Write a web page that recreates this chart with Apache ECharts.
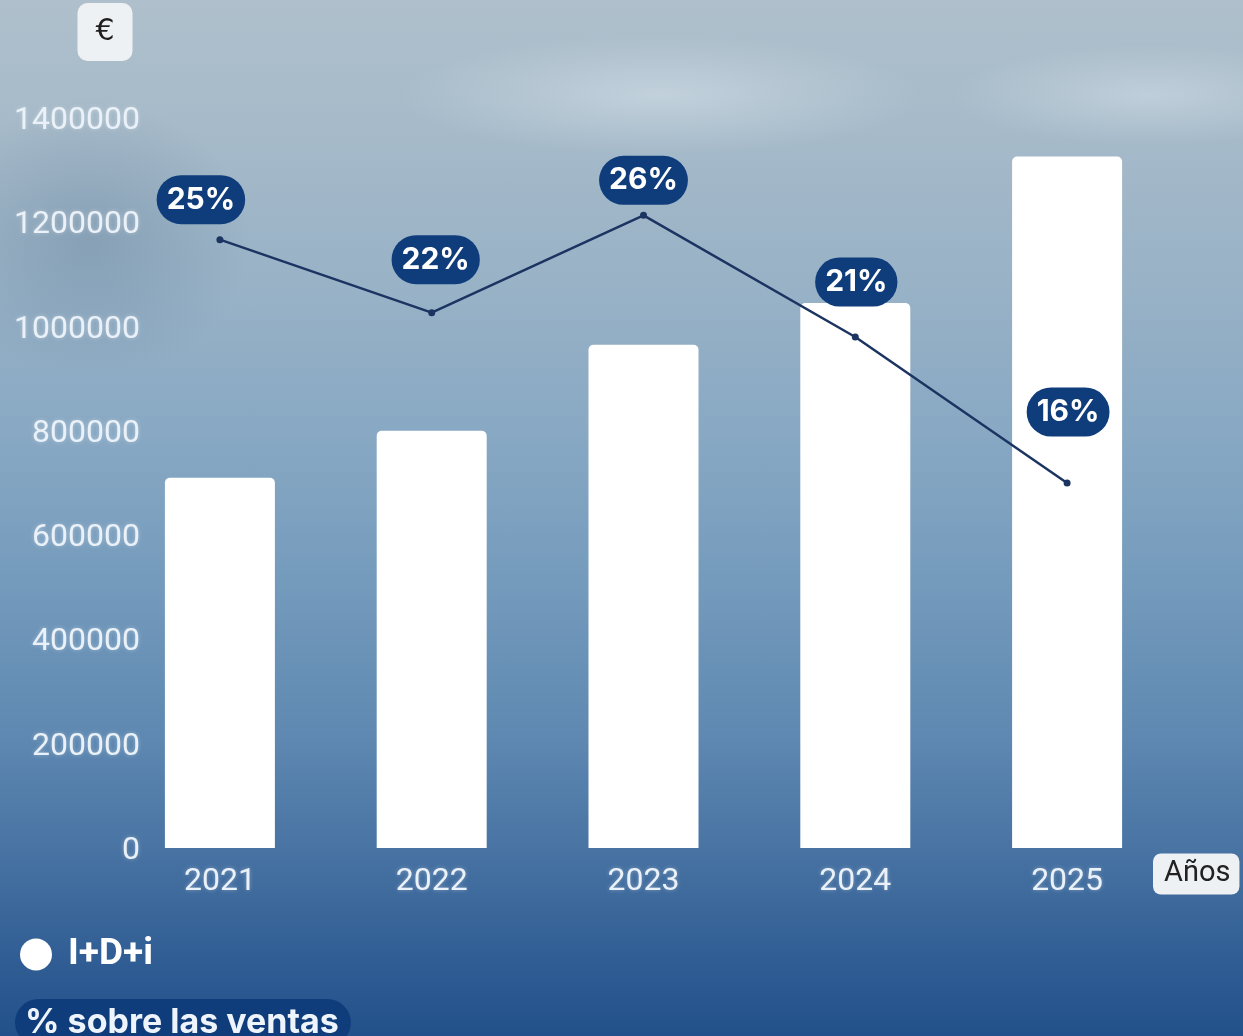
<!DOCTYPE html>
<html>
<head>
<meta charset="utf-8">
<script src="https://cdn.jsdelivr.net/npm/echarts@6/dist/echarts.min.js"></script>
<style>
  html, body { margin: 0; padding: 0; width: 1243px; height: 1036px; overflow: hidden; }
  body {
    background:
      radial-gradient(ellipse 260px 60px at 660px 95px, rgba(225,235,242,0.45), rgba(225,235,242,0) 100%),
      radial-gradient(ellipse 200px 50px at 1150px 95px, rgba(225,235,242,0.4), rgba(225,235,242,0) 100%),
      radial-gradient(ellipse 160px 140px at 90px 240px, rgba(70,100,130,0.25), rgba(70,100,130,0) 100%),
      linear-gradient(to bottom, #afc0cc 0px, #a6bac9 130px, #97b1c6 300px, #86a7c3 450px, #7299bb 600px, #5e88b1 740px, #4873a3 850px, #325f95 950px, #22508a 1036px);
  }
  #chart { width: 1243px; height: 1036px; }
</style>
</head>
<body>
<div id="chart"></div>
<script>
const years = ['2021', '2022', '2023', '2024', '2025'];
const idiValues = [710000, 800000, 965000, 1045000, 1326000];
const pctValues = [25, 22, 26, 21, 15];
const pctLabels = ['25%', '22%', '26%', '21%', '16%'];
const yTicks = [0, 200000, 400000, 600000, 800000, 1000000, 1200000, 1400000];

const labelOffsets = [[-19, -40], [4, -53], [0, -35], [1, -55], [1, -71]];
const navy = '#0f3c7a';
const lightText = '#eaf1f8';

const chart = echarts.init(document.getElementById('chart'), null, { renderer: 'canvas' });

const option = {
  backgroundColor: 'transparent',
  animation: false,
  grid: { left: 114, right: 70, top: 118, bottom: 188, containLabel: false },
  legend: [
    {
      data: [{ name: 'I+D+i', icon: 'circle' }],
      left: 15, top: 931,
      itemWidth: 32, itemHeight: 32,
      selectedMode: false,
      textStyle: {
        color: '#ffffff', fontFamily: 'Roboto', fontWeight: 'bold', fontSize: 37,
        padding: [0, 0, 0, 11]
      }
    },
    {
      data: [{ name: '% sobre las ventas', icon: 'rect', itemStyle: { opacity: 0 } }],
      left: 5, top: 994,
      itemWidth: 0, itemHeight: 0,
      selectedMode: false,
      textStyle: {
        color: '#eef4fb', fontFamily: 'Inter', fontWeight: 'bold', fontSize: 34,
        backgroundColor: navy, borderRadius: 24, padding: [5, 12, 8, 10]
      }
    }
  ],
  xAxis: {
    type: 'category',
    data: years,
    axisLine: { show: false },
    axisTick: { show: false },
    axisLabel: {
      color: lightText, fontFamily: 'Roboto', fontSize: 32, margin: 18,
      textShadowColor: 'rgba(255,255,255,0.35)', textShadowBlur: 4
    },
    name: '{box|Años}',
    nameLocation: 'end',
    nameGap: -20,
    nameTextStyle: {
      padding: [52, 0, 0, 0],
      rich: {
        box: {
          backgroundColor: '#eef1f4', borderRadius: 8, color: '#222222',
          fontFamily: 'Roboto', fontSize: 29, padding: [6, 9, 6, 11], lineHeight: 30
        }
      }
    }
  },
  yAxis: [
    {
      type: 'value',
      min: 0, max: 1400000, interval: 200000,
      axisLine: { show: false },
      axisTick: { show: false },
      splitLine: { show: false },
      axisLabel: {
        margin: -26,
        customValues: yTicks,
        formatter: (v) => '{v|' + v + '}',
        rich: {
          v: {
            color: lightText, fontFamily: 'Roboto', fontSize: 32, lineHeight: 36,
            padding: [6, 0, 0, 0],
            textShadowColor: 'rgba(255,255,255,0.35)', textShadowBlur: 4
          }
        }
      },
      name: '{box|€}',
      nameLocation: 'end',
      nameGap: 70,
      nameTextStyle: {
        align: 'center',
        padding: [0, 18, 0, 0],
        rich: {
          box: {
            backgroundColor: '#eef1f4', borderRadius: 10, color: '#1e1e1e',
            fontFamily: 'DejaVu Sans', fontSize: 30, padding: [14, 14, 14, 14], lineHeight: 32,
            width: 27, align: 'center'
          }
        }
      }
    },
    {
      type: 'value',
      min: 0, max: 30,
      show: false,
      splitLine: { show: false }
    }
  ],
  series: [
    {
      name: 'I+D+i',
      type: 'bar',
      data: idiValues,
      barWidth: 110,
      itemStyle: { color: '#ffffff', borderRadius: [5, 5, 0, 0] },
      z: 2
    },
    {
      name: '% sobre las ventas',
      type: 'line',
      yAxisIndex: 1,
      data: pctValues.map((v, i) => ({
        value: v,
        label: { offset: labelOffsets[i], formatter: pctLabels[i] }
      })),
      lineStyle: { color: '#1b3461', width: 2.5 },
      itemStyle: { color: '#1b3461' },
      symbol: 'circle',
      symbolSize: 7,
      label: {
        show: true,
        position: 'inside',
        color: '#ffffff',
        fontFamily: 'Inter',
        fontWeight: 'bold',
        fontSize: 30,
        lineHeight: 33,
        backgroundColor: navy,
        borderRadius: 25,
        padding: [8, 10, 8, 10]
      },
      z: 5
    }
  ]
};

chart.setOption(option);
</script>
</body>
</html>
